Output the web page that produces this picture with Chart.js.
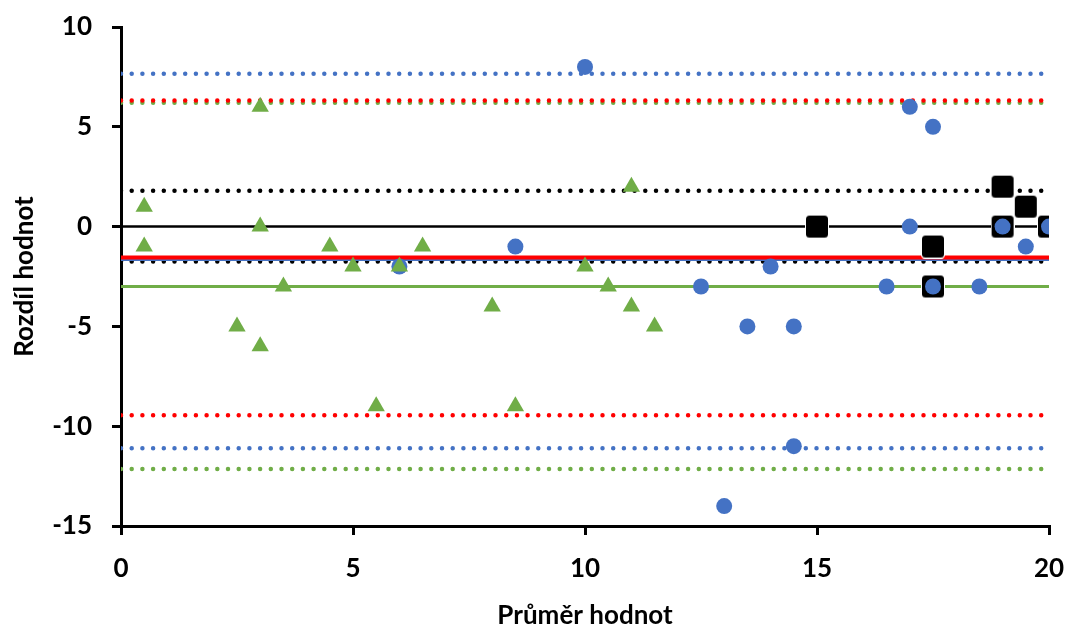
<!DOCTYPE html>
<html>
<head>
<meta charset="utf-8">
<script src="https://cdn.jsdelivr.net/npm/chart.js@4/dist/chart.umd.min.js"></script>
<style>
  html, body { margin: 0; padding: 0; background: #fff; }
  #wrap { width: 1068px; height: 628px; position: relative; }
</style>
</head>
<body>
<div id="wrap"><canvas id="bland"></canvas></div>
<script>
// points
const triX = [0.5, 0.5, 2.5, 3, 3, 3, 3.5, 4.5, 5, 5.5, 6, 6.5, 8, 8.5, 10, 10.5, 11, 11, 11.5];
const triY = [1, -1, -5, 6, 0, -6, -3, -1, -2, -9, -2, -1, -4, -9, -2, -3, 2, -4, -5];

const circX = [6, 8.5, 10, 12.5, 13, 13.5, 14, 14.5, 14.5, 16.5, 17, 17, 17.5, 17.5, 18.5, 19, 19.5, 20];
const circY = [-2, -1, 8, -3, -14, -5, -2, -5, -11, -3, 6, 0, 5, -3, -3, 0, -1, 0];

const sqX = [15, 17.5, 17.5, 19, 19, 19.5, 20];
const sqY = [0, -1, -3, 2, 0, 1, 0];

// horizontal reference levels
const lineNames  = ['zero', 'blueMean', 'redMean', 'greenMean', 'blackUpper', 'blackLower',
                    'blueUpper', 'redUpper', 'greenUpper', 'redLower', 'blueLower', 'greenLower'];
const lineLevels = [0, -1.65, -1.55, -3.0, 1.8, -1.75, 7.66, 6.32, 6.2, -9.45, -11.1, -12.15];
const lineDotted = [false, false, false, false, true, true, true, true, true, true, true, true];
const lineColors = ['#000000', '#4472c4', '#ff0000', '#70ad47', '#000000', '#000000',
                    '#4472c4', '#ff0000', '#70ad47', '#ff0000', '#4472c4', '#70ad47'];
const lineWidths = [2.5, 3, 4, 3, 4.5, 4.5, 4.5, 4.5, 4.5, 4.5, 4.5, 4.5];

const xTicks = [0, 5, 10, 15, 20];
const yTicks = [-15, -10, -5, 0, 5, 10];

function pts(xs, ys) {
    return xs.map((x, i) => ({ x: x, y: ys[i] }));
}

// black square marker with slightly rounded corners and thin white rim
function squareMarker(side) {
    const c = document.createElement('canvas');
    c.width = side; c.height = side;
    const g = c.getContext('2d');
    g.fillStyle = '#ffffff';
    g.beginPath(); g.roundRect(0, 0, side, side, 4); g.fill();
    g.fillStyle = '#000000';
    g.beginPath(); g.roundRect(1, 1, side - 2, side - 2, 3.5); g.fill();
    return c;
}

const datasets = [];

// draw order: green dotted before red dotted so red sits on top
const lineOrder = [8, 7, 6, 9, 10, 11, 4, 5, 1, 3, 0, 2];
lineOrder.forEach((i, k) => {
    datasets.push({
        type: 'line',
        label: lineNames[i],
        data: [{ x: 0, y: lineLevels[i] }, { x: 20, y: lineLevels[i] }],
        borderColor: lineColors[i],
        borderWidth: lineWidths[i],
        borderDash: lineDotted[i] ? [0, 10.7] : [],
        borderCapStyle: lineDotted[i] ? 'round' : 'butt',
        pointRadius: 0,
        fill: false,
        order: 100 - k
    });
});

datasets.push({
    label: 'squares',
    data: pts(sqX, sqY),
    pointStyle: squareMarker(24),
    pointRadius: 12,
    order: 3
});
datasets.push({
    label: 'circles',
    data: pts(circX, circY),
    pointStyle: 'circle',
    pointRadius: 8,
    backgroundColor: '#4472c4',
    borderColor: '#4472c4',
    borderWidth: 0,
    order: 2
});
datasets.push({
    label: 'triangles',
    data: pts(triX, triY),
    pointStyle: 'triangle',
    pointRadius: 10,
    backgroundColor: '#70ad47',
    borderColor: '#70ad47',
    borderWidth: 0,
    order: 1
});

const fontFam = "Lato, 'Open Sans', sans-serif";
const tickFont = { family: fontFam, size: 26, weight: 'bold' };

new Chart(document.getElementById('bland'), {
    type: 'scatter',
    data: { datasets },
    options: {
        responsive: true,
        maintainAspectRatio: false,
        animation: false,
        layout: { padding: { top: 27, right: 19, left: 0, bottom: 0 } },
        plugins: {
            legend: { display: false },
            tooltip: { enabled: false }
        },
        scales: {
            x: {
                type: 'linear',
                min: 0, max: 20,
                afterBuildTicks: ax => { ax.ticks = xTicks.map(v => ({ value: v })); },
                afterFit: ax => { ax.height = 102; ax.paddingLeft = 0; ax.paddingRight = 0; },
                border: { color: '#000', width: 3 },
                grid: { drawOnChartArea: false, drawTicks: true, tickLength: 9, color: '#000', lineWidth: 3 },
                ticks: { color: '#000', font: tickFont, padding: 18, maxRotation: 0 },
                title: { display: true, text: 'Průměr hodnot', color: '#000', font: tickFont, padding: { top: 0, bottom: -3 } }
            },
            y: {
                type: 'linear',
                min: -15, max: 10,
                afterBuildTicks: ax => { ax.ticks = yTicks.map(v => ({ value: v })); },
                afterFit: ax => { ax.width = 121; ax.paddingTop = 0; ax.paddingBottom = 0; },
                border: { color: '#000', width: 3 },
                grid: { drawOnChartArea: false, drawTicks: true, tickLength: 9, color: '#000', lineWidth: 3 },
                ticks: { color: '#000', font: tickFont, padding: 20 },
                title: { display: true, text: 'Rozdíl hodnot', color: '#000', font: tickFont, padding: { top: 9, bottom: 0 } }
            }
        }
    }
});
</script>
</body>
</html>
